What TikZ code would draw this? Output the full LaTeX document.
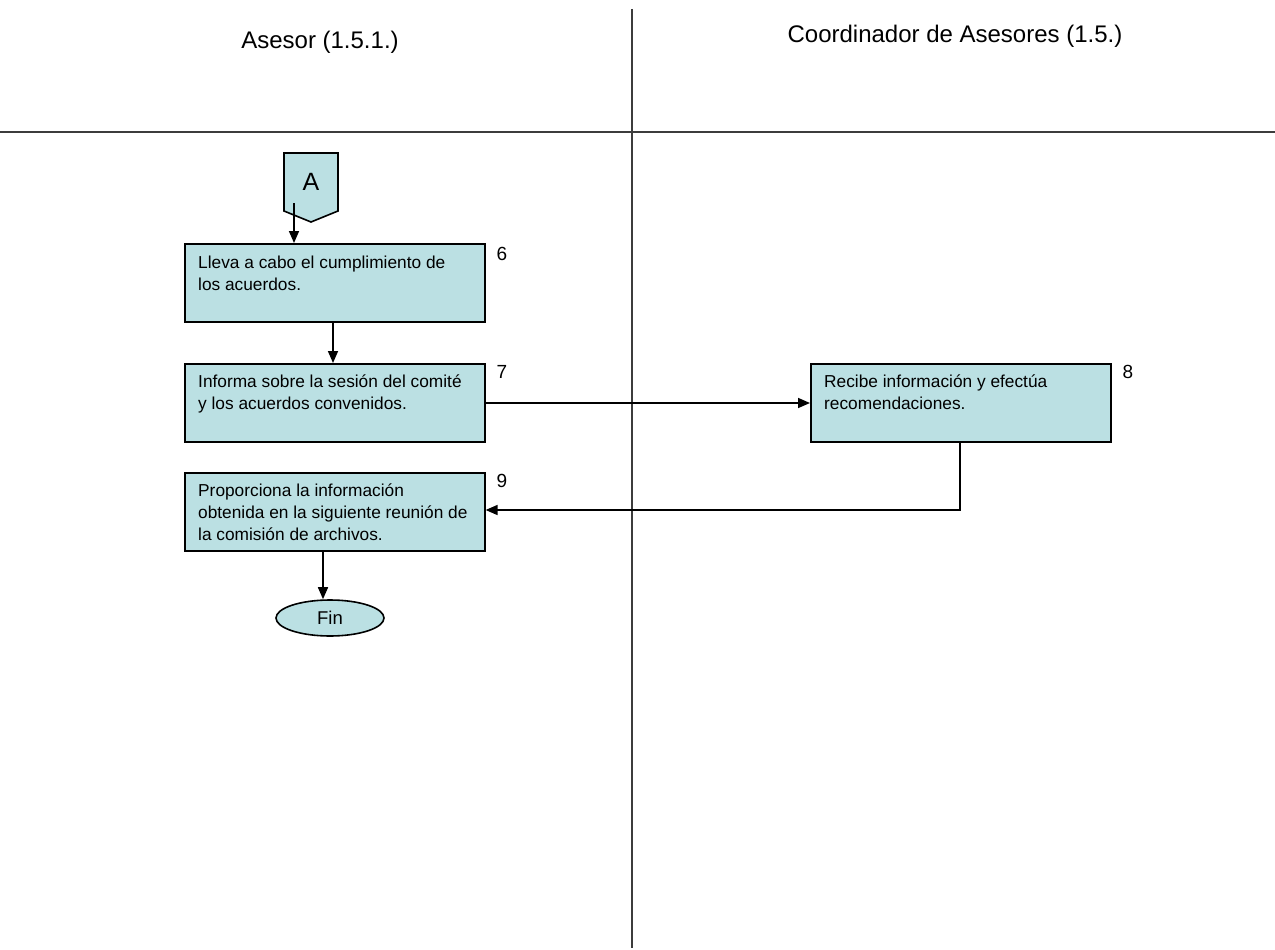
\documentclass[tikz,border=0pt]{standalone}
\usepackage{fontspec}
\setmainfont{Liberation Sans}
\usetikzlibrary{arrows.meta,shapes.geometric}
\definecolor{boxfill}{RGB}{187,224,227}
\definecolor{rule}{RGB}{60,60,60}
\begin{document}
\begin{tikzpicture}[x=1pt,y=-1pt,
  stepbox/.style={draw=black,line width=1.6pt,fill=boxfill,rectangle,inner sep=0pt,
    minimum width=300pt,minimum height=78pt,anchor=north west},
  steptext/.style={anchor=north west,inner sep=0pt,align=left,
    font=\fontsize{17.3pt}{22pt}\selectfont},
  stepnum/.style={inner sep=0pt,font=\fontsize{19pt}{21pt}\selectfont},
  lane/.style={inner sep=0pt,font=\fontsize{24pt}{28pt}\selectfont},
  flow/.style={line width=1.6pt,-{Triangle[length=12pt,width=10pt]}}]
\useasboundingbox (0,0) rectangle (1275,950);

% swimlane frame
\draw[rule,line width=1.4pt] (632,9) -- (632,948);
\draw[rule,line width=2pt] (0,132) -- (1275,132);
\node[lane] (h1) at (320,42) {Asesor (1.5.1.)};
\node[lane] (h2) at (955,36) {Coordinador de Asesores (1.5.)};

% off-page connector A
\draw[fill=boxfill,line width=1.6pt] (284,153) -- (338,153) -- (338,211) -- (311,222) -- (284,211) -- cycle;
\node[inner sep=0pt,font=\fontsize{25pt}{27pt}\selectfont] (A) at (311,182) {A};
\coordinate (Aout) at (294,203);

% process steps
\node[stepbox] (s6) at (184,243) {};
\node[steptext] (t6) at (198,256) {Lleva a cabo el cumplimiento de\\los acuerdos.};
\node[stepnum] (n6) at (502,254) {6};

\node[stepbox] (s7) at (184,363) {};
\node[steptext] (t7) at (198,375) {Informa sobre la sesión del comité\\y los acuerdos convenidos.};
\node[stepnum] (n7) at (502,372) {7};

\node[stepbox] (s8) at (810,363) {};
\node[steptext] (t8) at (824,375) {Recibe información y efectúa\\recomendaciones.};
\node[stepnum] (n8) at (1128,372) {8};

\node[stepbox] (s9) at (184,472) {};
\node[steptext] (t9) at (198,484) {Proporciona la información\\obtenida en la siguiente reunión de\\la comisión de archivos.};
\node[stepnum] (n9) at (502,481) {9};

% terminator
\node[ellipse,draw=black,line width=1.6pt,fill=boxfill,minimum width=108pt,minimum height=36pt,
  inner sep=0pt,font=\fontsize{18.5pt}{20pt}\selectfont] (fin) at (330,618) {Fin};

% connectors
\draw[flow] (Aout) -- (Aout |- s6.north);
\draw[flow] (s6.south -| 333,0) -- (s7.north -| 333,0);
\draw[flow] (s7.east |- 0,403) -- (s8.west |- 0,403);
\draw[flow] (s8.south -| 960,0) -- (960,510) -- (s9.east |- 0,510);
\draw[flow] (s9.south -| 323,0) -- (fin.north -| 323,0);
\end{tikzpicture}
\end{document}
